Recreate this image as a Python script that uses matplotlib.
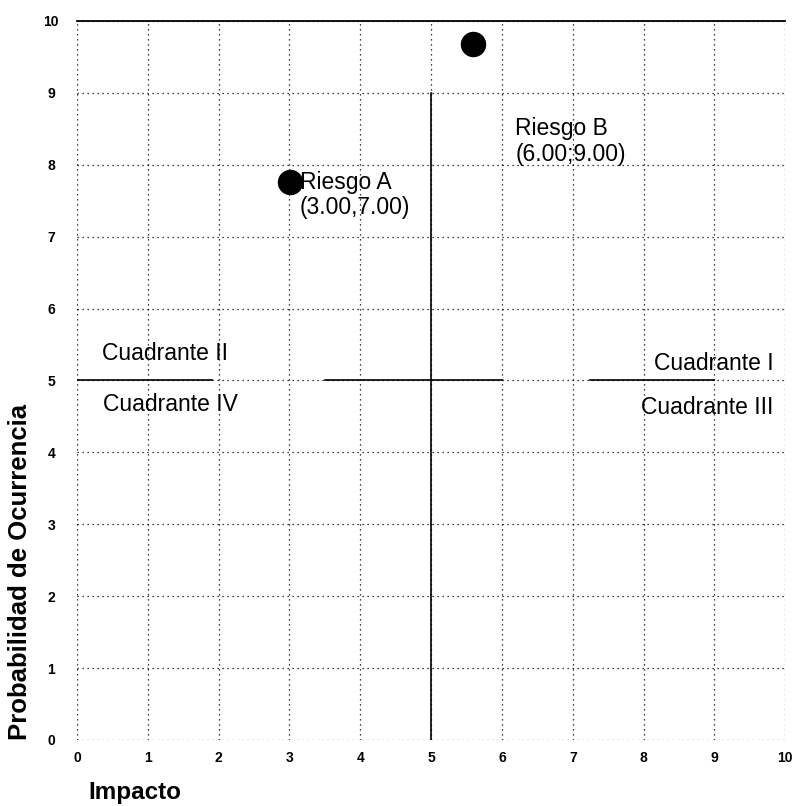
import matplotlib
matplotlib.use("Agg")
import matplotlib.pyplot as plt

plt.rcParams['font.family'] = ['Liberation Sans', 'DejaVu Sans']

# Data
risk_names = ["Riesgo A", "Riesgo B"]
risk_x = [3.01, 5.59]
risk_y = [7.76, 9.68]
risk_labels = ["Riesgo A\n(3.00,7.00)", "Riesgo B\n(6.00;9.00)"]
label_pos = [(3.15, 7.58), (6.19, 8.32)]
ticks = list(range(0, 11))

quadrant_names = ["Cuadrante II", "Cuadrante IV", "Cuadrante I", "Cuadrante III"]
quadrant_pos = [(0.35, 5.38), (0.36, 4.66), (9.83, 5.24), (9.83, 4.63)]
quadrant_ha = ["left", "left", "right", "right"]

# solid quadrant dividers (segments as seen)
hseg = [(0, 1.9), (3.5, 6.0), (7.25, 9.0)]
vseg = [(0, 9.0)]

fig = plt.figure(figsize=(7.94, 8.06), dpi=100)
ax = fig.add_axes([0.097, 0.082, 0.892, 0.892])
ax.set_xlim(0, 10)
ax.set_ylim(0, 10)

for t in ticks:
    ax.axvline(t, color='black', lw=0.9, ls=(0, (1, 3)), zorder=1)
    ax.axhline(t, color='black', lw=0.9, ls=(0, (1, 3)), zorder=1)

for a, b in hseg:
    ax.plot([a, b], [5, 5], color='black', lw=1.2, zorder=2)
for a, b in vseg:
    ax.plot([5, 5], [a, b], color='black', lw=1.2, zorder=2)

ax.scatter(risk_x, risk_y, s=300, color='black', zorder=3)
for lab, (lx, ly) in zip(risk_labels, label_pos):
    ax.text(lx, ly, lab, fontsize=16.5, ha='left', va='center', linespacing=1.15)

for name, (qx, qy), ha in zip(quadrant_names, quadrant_pos, quadrant_ha):
    ax.text(qx, qy, name, fontsize=16.5, ha=ha, va='center')

for s in ['left', 'bottom', 'right']:
    ax.spines[s].set_visible(False)
ax.spines['top'].set_linewidth(1.3)

ax.set_xticks(ticks)
ax.set_yticks(ticks)
ax.set_xticklabels([str(t) for t in ticks], fontsize=10, fontweight='bold')
ax.set_yticklabels([str(t) for t in ticks], fontsize=10, fontweight='bold',
                   ha='center')
ax.tick_params(axis='y', length=0, pad=18.5)
ax.tick_params(axis='x', length=0, pad=8)

fig.text(0.025, 0.082, "Probabilidad de Ocurrencia", fontsize=18.5,
         fontweight='bold', rotation=90, ha='center', va='bottom')
fig.text(0.111, 0.017, "Impacto", fontsize=17.5, fontweight='bold',
         ha='left', va='center')

fig.savefig("out.png", dpi=100)
